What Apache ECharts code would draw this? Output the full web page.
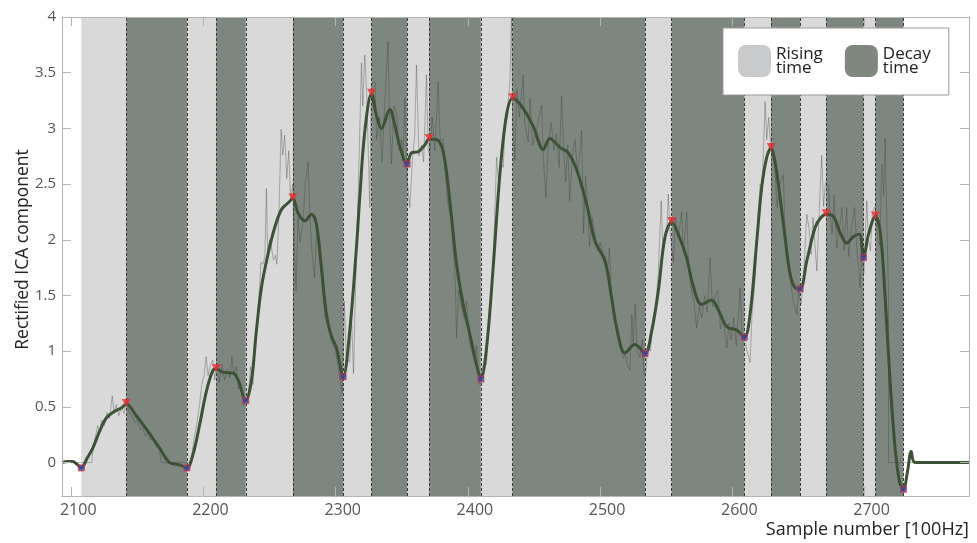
<!DOCTYPE html>
<html>
<head>
<meta charset="utf-8">
<script src="https://cdn.jsdelivr.net/npm/echarts@6/dist/echarts.min.js"></script>
<style>html,body{margin:0;padding:0;background:#fff}#c{width:977px;height:543px}</style>
</head>
<body>
<div id="c"></div>
<script>
// x tick labels and y tick labels
const xTicks = [2100, 2200, 2300, 2400, 2500, 2600, 2700];
const yTicks = [0, 0.5, 1, 1.5, 2, 2.5, 3, 3.5, 4];

// local maxima (end of rising time) and minima (start of rising time)
const peakX = [2141.6, 2209.7, 2267.7, 2327.1, 2370.7, 2433.8, 2554.1, 2629.3, 2671.0, 2708.2];
const peakY = [0.527, 0.84, 2.37, 3.31, 2.905, 3.27, 2.16, 2.825, 2.23, 2.21];
const minX = [2107.6, 2187.5, 2232.0, 2305.6, 2354.0, 2409.8, 2534.0, 2609.1, 2651.3, 2699.2, 2729.4];
const minY = [-0.048, -0.048, 0.556, 0.77, 2.68, 0.75, 0.98, 1.125, 1.56, 1.84, -0.24];

// smoothed ICA component
const smoothX = [2093,2097,2101,2104,2107.6,2112,2116.3,2121.4,2126.5,2132.8,2137.8,2141.6,2149.2,2156.8,2166.8,2174.4,2182,2187.5,2192,2197.1,2202.2,2207.2,2209.7,2214.7,2222.3,2226.1,2232,2236.2,2240,2243.8,2248.8,2253.9,2258.9,2263.9,2267.7,2271.5,2276.6,2281.7,2285.4,2289.2,2293,2296.8,2300.6,2305.6,2310.6,2315.7,2318.2,2322,2327.1,2330.8,2334.6,2340.9,2344.7,2348.5,2354,2357.3,2362.3,2367.4,2370.7,2376.3,2381.3,2386.3,2391.4,2396.4,2401.5,2406.5,2409.8,2414.1,2419.1,2424.2,2429.2,2433.8,2440.6,2449.4,2457,2462,2469.6,2475.9,2482.2,2489.8,2496.1,2503.7,2508.7,2512.5,2518.8,2526.4,2534,2539,2544,2549,2554.1,2559.1,2565.4,2570.5,2576.8,2584.4,2589.4,2595.8,2603.3,2609.1,2613.4,2618.5,2622.2,2626,2629.3,2632.3,2636.1,2639.9,2643.7,2647.5,2651.3,2656.3,2662.6,2667,2671,2676.5,2681.6,2686.6,2691.6,2696.1,2699.2,2703,2708.2,2711.8,2715.6,2719.3,2723.1,2726.4,2729.4,2732.5,2735.3,2738.3,2779];
const smoothY = [0,0.01,0.01,-0.01,-0.048,0.04,0.13,0.28,0.40,0.46,0.49,0.527,0.42,0.30,0.13,0.0,-0.02,-0.048,0.07,0.34,0.64,0.83,0.84,0.81,0.805,0.745,0.556,0.73,1.18,1.57,1.87,2.11,2.27,2.33,2.37,2.24,2.17,2.23,2.14,1.75,1.33,1.13,1.03,0.77,1.18,1.93,2.38,2.97,3.31,3.12,3.0,3.17,3.03,2.84,2.68,2.78,2.79,2.85,2.905,2.90,2.79,2.35,1.78,1.42,1.15,0.88,0.75,1.03,1.75,2.59,3.12,3.27,3.20,3.02,2.81,2.91,2.83,2.78,2.63,2.32,1.99,1.81,1.48,1.21,0.985,1.06,0.98,1.18,1.54,2.02,2.16,2.05,1.84,1.58,1.42,1.46,1.37,1.22,1.19,1.125,1.33,1.99,2.47,2.74,2.825,2.70,2.38,2.02,1.69,1.57,1.56,1.81,2.11,2.20,2.23,2.21,2.06,1.97,2.03,2.05,1.84,2.05,2.21,2.08,1.48,0.73,0.13,-0.17,-0.24,-0.08,0.10,0.0,0];

// raw rectified ICA component (thin grey trace)
const rawX = [2093,2115.5,2116.4,2118,2120,2121.5,2123,2125,2127,2129,2131,2132.5,2134,2136,2138,2140,2142,2143.5,2146,2148,2150,2152,2154,2156,2158,2160,2162,2164,2166.5,2168,2189.5,2191,2193,2195,2197,2199,2200.5,2202,2203.5,2205,2207,2208.5,2210,2212,2214,2216,2218,2220,2221.5,2223,2225,2226.5,2228,2230,2232,2234,2235.5,2237.5,2239,2240.5,2242,2243.5,2245,2246.5,2247.6,2248.5,2250,2251.4,2253,2254.5,2255.5,2257,2258.7,2260,2261.4,2263,2264.5,2266,2267.5,2268.5,2270,2271.5,2273,2275.3,2277,2279.1,2280.5,2282,2284,2286,2288,2290,2292,2294,2296,2298,2300,2302,2304,2305,2306.5,2308,2310.6,2312,2313.5,2315.7,2317,2319.5,2320.5,2322,2323.5,2325.8,2327,2329.6,2331,2333.3,2335,2337,2339.6,2341,2342.2,2344,2346,2348,2349.8,2351,2352.3,2354,2356,2358,2359.8,2361.1,2363,2364.9,2366.5,2368.7,2370,2371.2,2373,2375,2377.5,2379,2381.3,2383,2385,2387,2389,2390.5,2391.4,2393,2395,2397,2399,2401,2403,2405,2406.5,2407.8,2409,2410.5,2412,2414.1,2416,2418,2420,2421.7,2423,2425,2426.7,2428,2430,2431.7,2433,2433.8,2435.5,2437,2439,2441.8,2443,2445.6,2447,2449,2451,2453,2455.7,2457,2459,2461,2463,2465,2467,2469,2470.8,2472.5,2474,2475.5,2477,2479,2481,2483,2484.5,2486,2487.5,2489,2490.5,2492,2494,2496,2498,2500,2502,2504,2505.5,2507,2508.5,2510,2511.5,2513,2514.5,2516,2517.5,2519,2520.5,2522.5,2524,2525,2526.5,2528,2530,2532,2533,2534.3,2536,2538,2540,2542,2544,2546.2,2547.5,2549,2550.5,2551.6,2553,2555.4,2557,2559,2561.7,2563,2565.5,2567,2569,2571,2573,2575,2577,2579,2581,2583.1,2585,2587,2589,2591,2593,2595.8,2597.5,2599,2601,2603,2605.9,2607.5,2609,2611,2613.4,2615,2617,2619,2621,2622.5,2624.8,2626,2627.5,2629,2630.5,2632,2634,2636,2638.6,2640,2642,2644,2646,2648.7,2650,2652,2654,2656.3,2658,2659.5,2661,2663.9,2665.5,2667.6,2669,2670.5,2672.7,2674,2675.5,2677,2679,2681,2683,2684.5,2686.5,2688,2690,2692.5,2694,2696.6,2698,2699.5,2701.7,2703,2704.5,2706,2708,2710,2711.5,2713,2714.5,2715.6,2716.8,2718.1,2718.2,2779];
const rawY = [0,0,0.12,0.22,0.33,0.27,0.38,0.33,0.45,0.40,0.60,0.44,0.52,0.42,0.50,0.44,0.58,0.45,0.43,0.36,0.38,0.30,0.31,0.24,0.27,0.20,0.22,0.15,0.12,0,0,0.06,0.22,0.35,0.52,0.72,0.78,0.95,0.78,0.86,0.92,0.74,0.90,0.72,0.88,0.74,0.84,0.76,0.95,0.80,0.86,0.66,0.72,0.52,0.50,0.62,0.86,0.70,1.05,1.20,1.50,1.80,1.78,1.85,2.46,1.90,2.00,1.93,1.82,1.86,1.78,2.20,2.99,2.76,2.94,2.55,2.80,2.35,2.50,2.05,1.54,2.20,1.98,2.16,2.50,2.70,2.20,1.90,1.66,2.15,1.82,1.55,1.30,1.24,1.18,1.05,1.00,0.85,0.70,0.63,1.45,0.95,0.90,1.30,0.80,1.90,2.40,3.59,3.20,3.66,3.30,2.29,3.40,3.42,2.90,3.10,2.70,3.20,3.78,3.00,2.68,3.20,3.14,2.80,2.90,2.70,3.27,2.55,2.29,2.70,2.95,3.57,2.75,2.85,2.70,3.48,2.80,2.76,3.10,2.80,3.42,2.90,2.90,2.60,2.30,2.20,1.90,1.60,1.12,1.55,1.40,1.30,1.45,1.10,1.00,0.90,1.05,0.82,0.70,0.82,0.90,0.88,1.30,1.55,2.10,2.74,2.55,2.70,2.65,3.00,3.20,3.40,4.0,3.10,2.71,3.35,3.10,3.48,3.05,2.88,3.27,2.85,2.95,3.05,3.21,2.75,2.38,2.90,3.05,2.80,2.95,2.65,3.29,2.80,2.52,2.85,2.35,2.75,2.90,2.60,2.75,2.98,2.06,2.57,2.30,1.94,2.20,2.05,1.90,1.98,1.88,1.85,1.70,1.93,1.50,1.40,1.25,1.15,1.09,1.00,0.94,0.98,0.88,0.83,1.33,1.05,1.42,1.00,0.95,1.10,0.80,0.77,1.05,1.00,1.30,1.40,1.70,2.35,1.90,1.98,2.10,2.41,2.05,1.80,2.20,2.02,2.25,1.90,2.25,1.75,1.55,1.45,1.21,1.40,1.30,1.50,1.35,1.84,1.40,1.50,1.55,1.20,1.30,1.03,1.25,1.10,1.30,1.05,1.57,1.10,1.15,1.00,0.90,1.35,1.60,2.10,2.50,2.45,3.24,2.90,3.10,2.85,2.76,2.65,2.29,2.50,2.58,2.00,1.80,1.63,1.45,1.33,1.55,1.42,1.70,2.23,2.10,1.87,2.20,1.72,2.20,2.76,2.30,2.52,2.49,2.20,2.05,2.40,1.93,2.10,2.29,1.90,2.29,1.85,2.10,2.29,1.95,1.57,1.90,1.70,2.35,2.00,1.90,2.25,2.30,2.00,1.95,2.68,2.40,2.91,2.20,1.54,0,0];

const pair = (xs, ys) => xs.map((x, i) => [x, ys[i]]);
const risingBands = minX.slice(0, peakX.length).map((m, i) => [{xAxis: m}, {xAxis: peakX[i]}]);
const decayBands = peakX.map((p, i) => [{xAxis: p}, {xAxis: minX[i + 1]}]);
const dashX = peakX.concat(minX.slice(1));

const FONT = '"Open Sans", "Noto Sans", sans-serif';
const chart = echarts.init(document.getElementById('c'), null, {renderer: 'canvas'});
const axisGray = '#b4b4b4';
const baseX = {
  type: 'value', min: 2093, max: 2779, z: 6,
  axisLine: {show: true, onZero: false, lineStyle: {color: axisGray, width: 1}},
  axisTick: {show: true, inside: true, length: 9, customValues: xTicks, lineStyle: {color: axisGray}},
  splitLine: {show: false}
};
const baseY = {
  type: 'value', min: -0.3, max: 4, z: 6,
  axisLine: {show: true, onZero: false, lineStyle: {color: axisGray, width: 1}},
  axisTick: {show: true, inside: true, length: 9, customValues: yTicks, lineStyle: {color: axisGray}},
  splitLine: {show: false}
};
chart.setOption({
  animation: false,
  textStyle: {fontFamily: FONT},
  grid: {left: 62, right: 8, top: 17, bottom: 47, containLabel: false, outerBoundsMode: 'none'},
  legend: {
    left: 723, top: 28, orient: 'horizontal', z: 20, zlevel: 0,
    data: ['Rising time', 'Decay time'],
    icon: 'roundRect', itemWidth: 33, itemHeight: 32, itemGap: 22,
    padding: [17, 18, 18, 15],
    backgroundColor: '#fff', borderColor: '#9a9a9a', borderWidth: 1, borderRadius: 0,
    formatter: n => n.replace(' ', '\n'),
    textStyle: {fontFamily: FONT, fontSize: 17, lineHeight: 14, color: '#222'},
    selectedMode: false
  },
  xAxis: [
    Object.assign({}, baseX, {
      position: 'bottom',
      name: 'Sample number [100Hz]', nameLocation: 'end', nameGap: 0, nameMoveOverlap: false,
      nameTextStyle: {fontFamily: FONT, fontSize: 18, color: '#222', align: 'right', verticalAlign: 'top', padding: [25, 0, 0, 0]},
      axisLabel: {show: true, customValues: xTicks, margin: 6, fontSize: 16, color: '#555', fontFamily: FONT, padding: [0, 0, 0, 14], formatter: v => String(v)}
    }),
    Object.assign({}, baseX, {position: 'top', axisLabel: {show: false}})
  ],
  yAxis: [
    Object.assign({}, baseY, {
      position: 'left',
      name: 'Rectified ICA component', nameLocation: 'middle', nameGap: 30, nameMoveOverlap: false,
      nameTextStyle: {fontFamily: FONT, fontSize: 17.5, color: '#222', padding: [0, 0, 0, 14]},
      axisLabel: {show: true, customValues: yTicks, margin: 6, fontSize: 15, color: '#555', fontFamily: FONT, formatter: v => String(v)}
    }),
    Object.assign({}, baseY, {position: 'right', axisLabel: {show: false}})
  ],
  series: [
    {
      name: 'Rising time', type: 'line', data: [], z: 1,
      itemStyle: {color: '#c9cacc'}, lineStyle: {color: '#c9cacc'},
      markArea: {silent: true, itemStyle: {color: '#d9d9d9'}, data: risingBands}
    },
    {
      name: 'Decay time', type: 'line', data: [], z: 1,
      itemStyle: {color: '#7f877f'}, lineStyle: {color: '#7f877f'},
      markArea: {silent: true, itemStyle: {color: '#7e877f'}, data: decayBands}
    },
    {
      name: 'borders', type: 'line', data: [], z: 2,
      markLine: {
        silent: true, symbol: 'none', label: {show: false},
        lineStyle: {type: [3, 2], color: '#3a3a3a', width: 1},
        data: dashX.map(x => ({xAxis: x}))
      }
    },
    {
      name: 'raw', type: 'line', z: 3, data: pair(rawX, rawY), showSymbol: false,
      lineStyle: {color: 'rgba(60,60,60,0.5)', width: 0.7}
    },
    {
      name: 'smooth', type: 'line', z: 4, data: pair(smoothX, smoothY), showSymbol: false, smooth: 0.35,
      lineStyle: {color: '#3b5234', width: 3}
    },
    {
      name: 'peaks', type: 'scatter', z: 5, data: pair(peakX, peakY),
      symbol: 'triangle', symbolRotate: 180, symbolSize: [9, 8], symbolOffset: [0, -1],
      itemStyle: {color: '#f02a2a'}
    },
    {
      name: 'minima', type: 'scatter', z: 5, data: pair(minX, minY),
      symbol: 'rect', symbolSize: 6,
      itemStyle: {color: '#3a4aa8', borderColor: '#e0303a', borderWidth: 1}
    }
  ]
});
</script>
</body>
</html>
